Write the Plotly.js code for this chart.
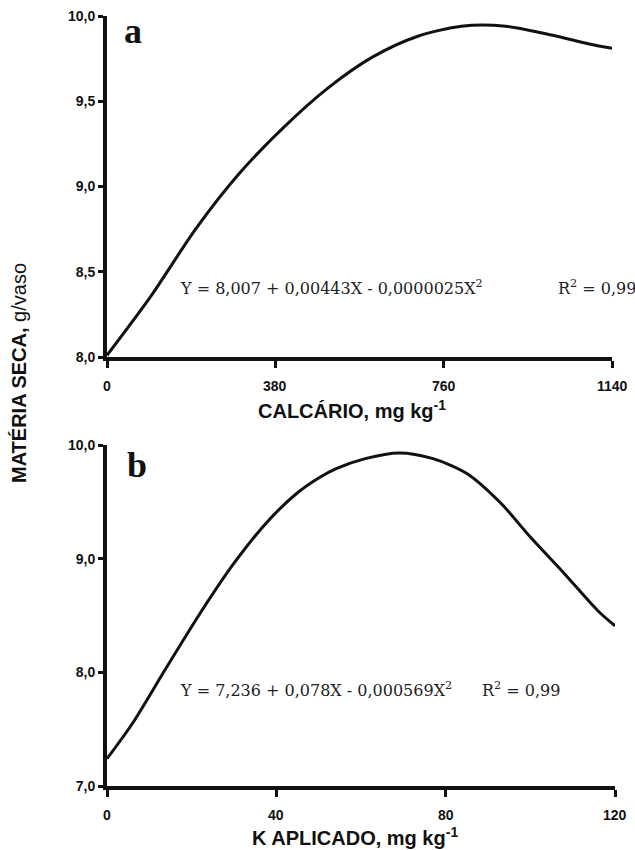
<!DOCTYPE html>
<html><head><meta charset="utf-8">
<script src="https://cdn.plot.ly/plotly-3.0.1.min.js"></script>
<style>html,body{margin:0;padding:0;background:#fff}#chart{width:635px;height:850px}</style>
</head><body><div id="chart"></div>
<script>
// Panel a: CALCÁRIO (mg/kg) vs matéria seca (g/vaso)
const calcX = [0, 100, 200, 300, 400, 500, 600, 700, 800, 900, 1000, 1100, 1140];
const calcY = [8.01, 8.36, 8.75, 9.08, 9.35, 9.58, 9.76, 9.88, 9.94, 9.94, 9.89, 9.83, 9.81];
const calcTicks = [0, 380, 760, 1140];
const calcYTicks = [8, 8.5, 9, 9.5, 10];

// Panel b: K aplicado (mg/kg) vs matéria seca (g/vaso)
const kX = [0, 6, 14, 22, 30, 38, 45, 50, 54, 61, 69, 77, 85, 93, 100, 108, 116, 120];
const kY = [7.24, 7.55, 8.04, 8.52, 8.96, 9.33, 9.58, 9.71, 9.79, 9.88, 9.93, 9.88, 9.75, 9.49, 9.19, 8.87, 8.54, 8.41];
const kTicks = [0, 40, 80, 120];
const kYTicks = [7, 8, 9, 10];

const sans = 'Liberation Sans, Arial, sans-serif';
const serif = 'DejaVu Serif, serif';
const lineStyle = {color: '#111', width: 3, shape: 'spline', smoothing: 0.8};
const tickFont = {family: sans, size: 14, color: '#111'};
const fmt = v => '<b>' + v.toFixed(1).replace('.', ',') + '</b>';

const traces = [
  {x: calcX, y: calcY, xaxis: 'x', yaxis: 'y', mode: 'lines', line: lineStyle, hoverinfo: 'skip'},
  {x: kX, y: kY, xaxis: 'x2', yaxis: 'y2', mode: 'lines', line: lineStyle, hoverinfo: 'skip'}
];

function xa(domain, range, ticks, anchor) {
  return {domain, range, anchor, tickvals: ticks, showticklabels: false,
    showgrid: false, zeroline: false, showline: true, linewidth: 4, linecolor: '#111',
    ticks: 'outside', ticklen: 7, tickwidth: 3, tickcolor: '#111', fixedrange: true};
}
function ya(domain, range, ticks, anchor) {
  return {domain, range, anchor, tickvals: ticks, ticktext: ticks.map(fmt),
    showgrid: false, zeroline: false, showline: true, linewidth: 4, linecolor: '#111',
    ticks: 'outside', ticklen: 5, tickwidth: 3, tickcolor: '#111',
    tickfont: tickFont, fixedrange: true};
}

const annotations = [
  {text: '<b>a</b>', xref: 'paper', yref: 'paper', x: 133/635, y: 1 - 31/850, xanchor: 'center', yanchor: 'middle', showarrow: false, font: {family: 'Liberation Serif, serif', size: 36, color: '#111'}},
  {text: '<b>b</b>', xref: 'paper', yref: 'paper', x: 137/635, y: 1 - 465/850, xanchor: 'center', yanchor: 'middle', showarrow: false, font: {family: 'Liberation Serif, serif', size: 36, color: '#111'}},
  {text: 'Y = 8,007 + 0,00443X - 0,0000025X<sup>2</sup>', xref: 'paper', yref: 'paper', x: 178/635, y: 1 - 287/850, xanchor: 'left', yanchor: 'middle', showarrow: false, font: {family: serif, size: 16, color: '#222'}},
  {text: 'R<sup>2</sup> = 0,99', xref: 'paper', yref: 'paper', x: 556/635, y: 1 - 287/850, xanchor: 'left', yanchor: 'middle', showarrow: false, font: {family: serif, size: 16, color: '#222'}},
  {text: 'Y = 7,236 + 0,078X - 0,000569X<sup>2</sup>', xref: 'paper', yref: 'paper', x: 178/635, y: 1 - 689/850, xanchor: 'left', yanchor: 'middle', showarrow: false, font: {family: serif, size: 16, color: '#222'}},
  {text: 'R<sup>2</sup> = 0,99', xref: 'paper', yref: 'paper', x: 480/635, y: 1 - 689/850, xanchor: 'left', yanchor: 'middle', showarrow: false, font: {family: serif, size: 16, color: '#222'}},
  {text: '<b>CALCÁRIO, mg kg<sup>-1</sup></b>', xref: 'paper', yref: 'paper', x: 352/635, y: 1 - 409/850, xanchor: 'center', yanchor: 'middle', showarrow: false, font: {family: sans, size: 20, color: '#111'}},
  {text: '<b>K APLICADO, mg kg<sup>-1</sup></b>', xref: 'paper', yref: 'paper', x: 355/635, y: 1 - 836/850, xanchor: 'center', yanchor: 'middle', showarrow: false, font: {family: sans, size: 20, color: '#111'}},
  {text: '<b>MATÉRIA SECA,</b> g/vaso', xref: 'paper', yref: 'paper', x: 19/635, y: 1 - 373/850, xanchor: 'center', yanchor: 'middle', textangle: -90, showarrow: false, font: {family: sans, size: 20, color: '#111'}}
];
// x tick labels placed at the tick values through the axes
calcTicks.forEach(v => annotations.push({text: '<b>' + v + '</b>', xref: 'x', yref: 'paper', x: v, y: 1 - 386/850, xanchor: 'center', yanchor: 'middle', showarrow: false, font: tickFont}));
kTicks.forEach(v => annotations.push({text: '<b>' + v + '</b>', xref: 'x2', yref: 'paper', x: v, y: 1 - 815/850, xanchor: 'center', yanchor: 'middle', showarrow: false, font: tickFont}));

const layout = {
  width: 635, height: 850,
  margin: {l: 0, r: 0, t: 0, b: 0},
  paper_bgcolor: '#fff', plot_bgcolor: '#fff',
  showlegend: false,
  xaxis: xa([107/635, 612/635], [0, 1140], calcTicks, 'y'),
  yaxis: ya([1 - 357/850, 1 - 16/850], [8, 10], calcYTicks, 'x'),
  xaxis2: xa([107/635, 615/635], [0, 120], kTicks, 'y2'),
  yaxis2: ya([1 - 786/850, 1 - 445/850], [7, 10], kYTicks, 'x2'),
  annotations
};

Plotly.newPlot('chart', traces, layout, {staticPlot: true, displayModeBar: false});
</script>
</body></html>
